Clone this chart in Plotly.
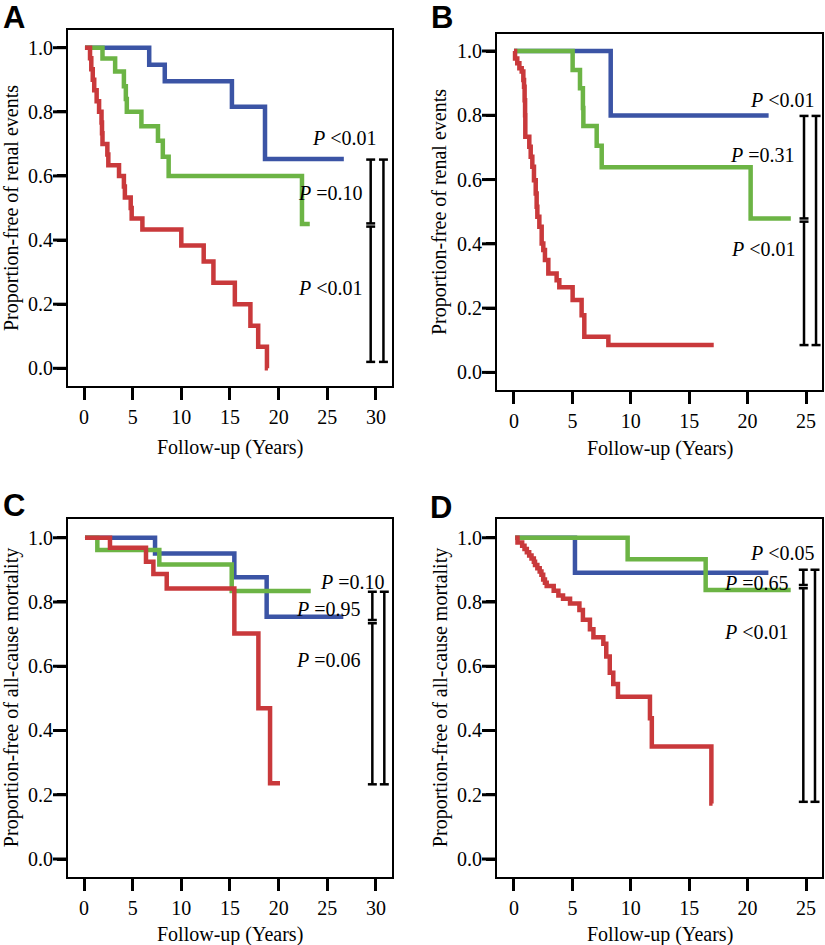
import plotly.graph_objects as go

W, H = 825, 945

BLUE = "#3b54a5"
GREEN = "#6cb445"
RED = "#c9393b"
SERIF = "Liberation Serif"
SANS = "Liberation Sans"

# ---------------- data (years, proportion event-free) ----------------
# Panel A - renal events
A_blue_t = [0.1, 6.7, 8.3, 15.2, 18.6, 26.7]
A_blue_s = [1.0, 0.947, 0.895, 0.816, 0.653, 0.653]
A_green_t = [0.1, 1.9, 3.2, 4.1, 4.3, 4.4, 5.9, 7.6, 8.1, 8.7, 22.4, 23.2]
A_green_s = [1.0, 0.966, 0.926, 0.88, 0.84, 0.80, 0.755, 0.71, 0.66, 0.60, 0.45, 0.45]
A_red_t = [0.1, 0.62, 0.75, 0.9, 1.05, 1.3, 1.55, 1.8, 1.85, 1.9, 2.4, 2.5, 3.6, 4.1,
           4.2, 4.8, 4.9, 6.0, 10.0, 12.3, 13.3, 15.5, 17.1, 17.9, 18.8, 18.9]
A_red_s = [1.0, 0.967, 0.933, 0.90, 0.867, 0.833, 0.80, 0.767, 0.733, 0.70, 0.667, 0.633,
           0.60, 0.567, 0.533, 0.50, 0.467, 0.433, 0.383, 0.333, 0.267, 0.20, 0.133,
           0.067, 0.0, 0.0]

# Panel B - renal events
B_blue_t = [0.0, 8.28, 21.8]
B_blue_s = [1.0, 0.799, 0.799]
B_green_t = [0.0, 5.02, 5.65, 5.9, 5.94, 7.08, 7.51, 20.26, 23.7]
B_green_s = [1.0, 0.941, 0.884, 0.823, 0.767, 0.705, 0.638, 0.479, 0.479]
B_red_t = [0.0, 0.09, 0.28, 0.46, 0.66, 0.8, 0.86, 0.91, 0.95, 0.97, 1.31, 1.43, 1.57,
           1.71, 1.86, 1.94, 2.0, 2.17, 2.37, 2.51, 2.65, 2.94, 3.65, 3.88, 5.02, 5.79,
           6.02, 8.08, 17.1]
B_red_s = [1.0, 0.977, 0.962, 0.946, 0.936, 0.91, 0.889, 0.847, 0.80, 0.733, 0.702,
           0.671, 0.64, 0.598, 0.557, 0.515, 0.484, 0.453, 0.401, 0.381, 0.35, 0.308,
           0.287, 0.265, 0.225, 0.178, 0.111, 0.085, 0.085]

# Panel C - all-cause mortality
C_blue_t = [0.1, 7.3, 15.45, 18.77, 26.65]
C_blue_s = [1.0, 0.951, 0.877, 0.754, 0.754]
C_green_t = [0.1, 1.37, 7.74, 15.18, 23.3]
C_green_s = [1.0, 0.962, 0.917, 0.834, 0.834]
C_red_t = [0.1, 2.67, 6.37, 7.13, 8.5, 15.45, 17.92, 19.12, 20.14]
C_red_s = [1.0, 0.969, 0.925, 0.887, 0.842, 0.702, 0.469, 0.236, 0.236]

# Panel D - all-cause mortality
D_blue_t = [0.1, 5.22, 21.78]
D_blue_s = [1.0, 0.891, 0.891]
D_green_t = [0.1, 9.73, 16.41, 23.69]
D_green_s = [1.0, 0.933, 0.837, 0.837]
D_red_t = [0.1, 0.3, 0.7, 0.9, 1.1, 1.3, 1.5, 1.7, 1.8, 2.0, 2.2, 2.35, 2.5, 2.65, 2.8,
           3.4, 3.8, 4.2, 4.8, 5.6, 5.9, 6.5, 6.8, 7.65, 7.9, 8.2, 8.5, 8.9, 11.64,
           11.8, 16.9, 17.0]
D_red_s = [1.0, 0.985, 0.975, 0.965, 0.955, 0.945, 0.935, 0.925, 0.915, 0.905, 0.895,
           0.885, 0.87, 0.86, 0.85, 0.835, 0.82, 0.81, 0.795, 0.775, 0.745, 0.715, 0.69,
           0.67, 0.63, 0.58, 0.545, 0.505, 0.438, 0.35, 0.173, 0.173]

# P-value labels: (text, right-edge x in years, y)
A_pvals = [("<i>P</i> &lt;0.01", 30.3, 0.718), ("<i>P</i> =0.10", 28.9, 0.548),
           ("<i>P</i> &lt;0.01", 28.9, 0.25)]
B_pvals = [("<i>P</i> &lt;0.01", 25.9, 0.847), ("<i>P</i> =0.31", 24.2, 0.676),
           ("<i>P</i> &lt;0.01", 24.34, 0.384)]
C_pvals = [("<i>P</i> =0.10", 31.1, 0.861), ("<i>P</i> =0.95", 28.7, 0.778),
           ("<i>P</i> =0.06", 28.7, 0.618)]
D_pvals = [("<i>P</i> &lt;0.05", 25.9, 0.952), ("<i>P</i> =0.65", 23.7, 0.859),
           ("<i>P</i> &lt;0.01", 23.7, 0.708)]

# comparison brackets: (x, y_top, y_bottom)
A_brackets = [(29.46, 0.651, 0.452), (29.46, 0.442, 0.02), (30.77, 0.651, 0.02)]
B_brackets = [(24.83, 0.798, 0.479), (24.83, 0.469, 0.085), (25.86, 0.798, 0.085)]
C_brackets = [(29.63, 0.832, 0.744), (29.63, 0.734, 0.2325), (30.86, 0.832, 0.2325)]
D_brackets = [(24.77, 0.90, 0.853), (24.77, 0.843, 0.178), (25.77, 0.90, 0.178)]

A_xticks = [0, 5, 10, 15, 20, 25, 30]
B_xticks = [0, 5, 10, 15, 20, 25]
Y_ticks = [0.0, 0.2, 0.4, 0.6, 0.8, 1.0]

# ---------------- layout geometry (pixels) ----------------
panels = [
    dict(key="", letter="A", box=(68, 392, 30, 386), xr=[-1.644, 31.65], yr=[-0.0552, 1.0552],
         curves=[(A_blue_t, A_blue_s, BLUE), (A_green_t, A_green_s, GREEN), (A_red_t, A_red_s, RED)],
         pvals=A_pvals, brackets=A_brackets, xticks=A_xticks, cap=0.46,
         ytitle="Proportion-free of renal events", letter_pos=(1, 17), xt_off=61),
    dict(key="2", letter="B", box=(497, 822, 34, 390), xr=[-1.455, 26.37], yr=[-0.0548, 1.0529],
         curves=[(B_blue_t, B_blue_s, BLUE), (B_green_t, B_green_s, GREEN), (B_red_t, B_red_s, RED)],
         pvals=B_pvals, brackets=B_brackets, xticks=B_xticks, cap=0.385,
         ytitle="Proportion-free of renal events", letter_pos=(429, 17), xt_off=58),
    dict(key="3", letter="C", box=(68, 392, 519.3, 877), xr=[-1.644, 31.65], yr=[-0.056, 1.0573],
         curves=[(C_blue_t, C_blue_s, BLUE), (C_green_t, C_green_s, GREEN), (C_red_t, C_red_s, RED)],
         pvals=C_pvals, brackets=C_brackets, xticks=A_xticks, cap=0.46,
         ytitle="Proportion-free of all-cause mortality", letter_pos=(1, 506), xt_off=57),
    dict(key="4", letter="D", box=(497, 822, 519.3, 877), xr=[-1.455, 26.37], yr=[-0.056, 1.0573],
         curves=[(D_blue_t, D_blue_s, BLUE), (D_green_t, D_green_s, GREEN), (D_red_t, D_red_s, RED)],
         pvals=D_pvals, brackets=D_brackets, xticks=B_xticks, cap=0.385,
         ytitle="Proportion-free of all-cause mortality", letter_pos=(428, 507), xt_off=57),
]

YTICK_PX = 15  # visible length of y tick marks

fig = go.Figure()
annotations = []
shapes = []

for p in panels:
    k = p["key"]
    xa, ya = "x" + k, "y" + k
    x0, x1, y0, y1 = p["box"]
    for t, s, c in p["curves"]:
        fig.add_trace(go.Scatter(x=t, y=s, mode="lines", line=dict(color=c, width=4.5, shape="hv"),
                                 xaxis=xa, yaxis=ya, showlegend=False, hoverinfo="skip"))
    axis_common = dict(showline=True, linecolor="black", linewidth=2, mirror=True,
                       showgrid=False, zeroline=False, ticks="outside", tickcolor="black",
                       tickwidth=3, tickfont=dict(family=SERIF, size=20, color="black"))
    fig.layout["xaxis" + k] = dict(domain=[x0 / W, x1 / W], range=p["xr"], anchor=ya,
                                   tickvals=p["xticks"], ticklen=12, **axis_common)
    fig.layout["yaxis" + k] = dict(domain=[1 - y1 / H, 1 - y0 / H], range=p["yr"], anchor=xa,
                                   tickvals=Y_ticks, tickformat=".1f", ticklen=9, **axis_common)
    # extend y tick marks so the labels sit right against them
    for v in Y_ticks:
        shapes.append(dict(type="line", xref=xa + " domain", yref=ya,
                           x0=-YTICK_PX / (x1 - x0), x1=0, y0=v, y1=v,
                           line=dict(color="black", width=3)))
    for txt, xr, yv in p["pvals"]:
        annotations.append(dict(text=txt, x=xr, y=yv, xref=xa, yref=ya, xanchor="right",
                                yanchor="middle", showarrow=False,
                                font=dict(family=SERIF, size=20, color="black")))
    for bx, ytop, ybot in p["brackets"]:
        ln = dict(color="black", width=2.5)
        shapes.append(dict(type="line", xref=xa, yref=ya, x0=bx, x1=bx, y0=ytop, y1=ybot, line=ln))
        for yy in (ytop, ybot):
            shapes.append(dict(type="line", xref=xa, yref=ya, x0=bx - p["cap"], x1=bx + p["cap"],
                               y0=yy, y1=yy, line=ln))
    # axis titles
    annotations.append(dict(text="Follow-up (Years)", x=(x0 + x1) / 2 / W,
                            y=1 - (y1 + p["xt_off"]) / H, xref="paper", yref="paper",
                            xanchor="center", yanchor="middle", showarrow=False,
                            font=dict(family=SERIF, size=20, color="black")))
    annotations.append(dict(text=p["ytitle"], x=(x0 - 57) / W, y=1 - (y0 + y1) / 2 / H,
                            xref="paper", yref="paper", xanchor="center", yanchor="middle",
                            textangle=-90, showarrow=False,
                            font=dict(family=SERIF, size=20, color="black")))
    lx, ly = p["letter_pos"]
    annotations.append(dict(text="<b>%s</b>" % p["letter"], x=lx / W, y=1 - ly / H,
                            xref="paper", yref="paper", xanchor="left", yanchor="middle",
                            showarrow=False, font=dict(family=SANS, size=31, color="black")))

fig.update_layout(width=W, height=H, margin=dict(l=0, r=0, t=0, b=0),
                  paper_bgcolor="white", plot_bgcolor="white",
                  annotations=annotations, shapes=shapes, showlegend=False)

fig.write_html("out.html", config={"displayModeBar": False},
               post_script="document.body.style.margin='0';document.body.style.overflow='hidden';")
